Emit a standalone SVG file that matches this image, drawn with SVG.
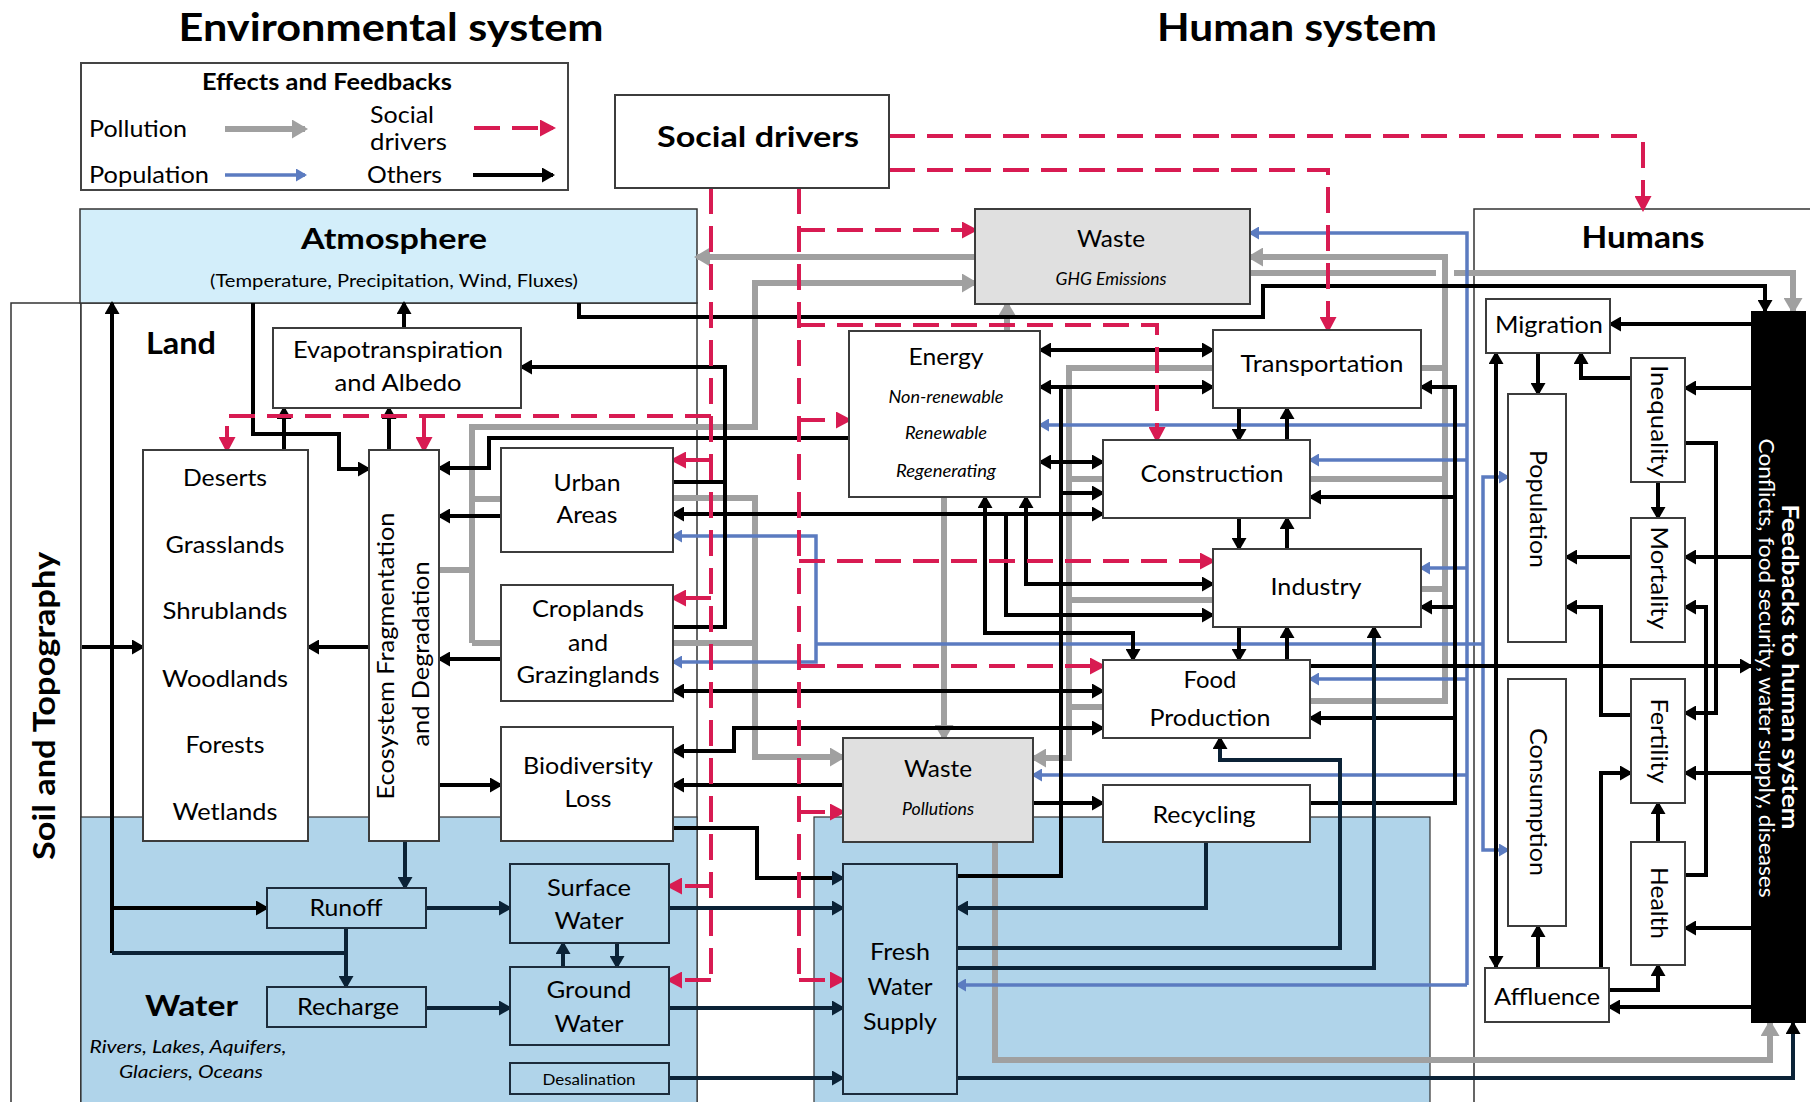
<svg xmlns="http://www.w3.org/2000/svg" width="1810" height="1102" viewBox="0 0 1810 1102">
<defs>
<style>
text{font-family:Lato,"Open Sans","Liberation Sans",sans-serif;fill:#000}
.l{font-size:24px}
.m{text-anchor:middle}
.b{font-weight:bold}
.i{font-style:italic;font-size:18px}
.box{fill:#fff;stroke:#3c3c3c;stroke-width:2}
.wbox{fill:#b0d4ea;stroke:#1c2c3c;stroke-width:2}
.gbox{fill:#e0e0e0;stroke:#3c3c3c;stroke-width:2}
.k{fill:none;stroke:#000;stroke-width:4}
.n{fill:none;stroke:#0b2236;stroke-width:4}
.g{fill:none;stroke:#a0a0a0;stroke-width:6}
.u{fill:none;stroke:#5b7bc0;stroke-width:3.5}
.r{fill:none;stroke:#d81b52;stroke-width:4;stroke-dasharray:26 12}
.ek{marker-end:url(#ak)}.sk{marker-start:url(#ak)}
.en{marker-end:url(#an)}
.eg{marker-end:url(#ag)}
.eu{marker-end:url(#au)}
.er{marker-end:url(#ar)}
</style>
<marker id="ak" viewBox="0 0 13 15" refX="11" refY="7.5" markerWidth="13" markerHeight="15" markerUnits="userSpaceOnUse" orient="auto-start-reverse"><path d="M0,0L13,7.5L0,15z" fill="#000"/></marker>
<marker id="an" viewBox="0 0 13 15" refX="11" refY="7.5" markerWidth="13" markerHeight="15" markerUnits="userSpaceOnUse" orient="auto-start-reverse"><path d="M0,0L13,7.5L0,15z" fill="#0b2236"/></marker>
<marker id="ag" viewBox="0 0 16 19" refX="13" refY="9.5" markerWidth="16" markerHeight="19" markerUnits="userSpaceOnUse" orient="auto"><path d="M0,0L16,9.5L0,19z" fill="#a0a0a0"/></marker>
<marker id="au" viewBox="0 0 11 13" refX="9" refY="6.5" markerWidth="11" markerHeight="13" markerUnits="userSpaceOnUse" orient="auto"><path d="M0,0L11,6.5L0,13z" fill="#5b7bc0"/></marker>
<marker id="ar" viewBox="0 0 16 17" refX="13" refY="8.5" markerWidth="16" markerHeight="17" markerUnits="userSpaceOnUse" orient="auto"><path d="M0,0L16,8.5L0,17z" fill="#d81b52"/></marker>
</defs>
<rect width="1810" height="1102" fill="#fff"/>

<g id="titles">
<text class="b m" x="391" y="41" font-size="39" textLength="425" lengthAdjust="spacingAndGlyphs">Environmental system</text>
<text class="b m" x="1297" y="41" font-size="39" textLength="280" lengthAdjust="spacingAndGlyphs">Human system</text>
</g>

<g id="legend">
<rect x="81" y="63" width="487" height="127" fill="#fff" stroke="#444" stroke-width="2"/>
<text class="b m" x="327" y="90" font-size="23" textLength="250" lengthAdjust="spacingAndGlyphs">Effects and Feedbacks</text>
<text class="l" x="89" y="137" textLength="98" lengthAdjust="spacingAndGlyphs">Pollution</text>
<text class="l" x="370" y="123" textLength="64" lengthAdjust="spacingAndGlyphs">Social</text>
<text class="l" x="370" y="150" textLength="77" lengthAdjust="spacingAndGlyphs">drivers</text>
<text class="l" x="89" y="183" textLength="120" lengthAdjust="spacingAndGlyphs">Population</text>
<text class="l" x="367" y="183" textLength="75" lengthAdjust="spacingAndGlyphs">Others</text>
<path class="g eg" d="M225,129H305"/>
<path class="r er" d="M474,128H553"/>
<path class="u eu" d="M225,175H305"/>
<path class="k ek" d="M473,175H553"/>
</g>

<g id="regions">
<rect x="11" y="303" width="70" height="810" fill="#fff" stroke="#333" stroke-width="1.5"/>
<rect x="81" y="303" width="616" height="810" fill="#fff" stroke="#333" stroke-width="1.5"/>
<rect x="81" y="817" width="616" height="300" fill="#b0d4ea" stroke="#333" stroke-width="1.2"/>
<rect x="814" y="817" width="616" height="300" fill="#b0d4ea" stroke="#333" stroke-width="1.2"/>
<rect x="1474" y="209" width="345" height="910" fill="none" stroke="#333" stroke-width="1.5"/>
<rect x="80" y="209" width="617" height="94" fill="#d3eefa" stroke="#333" stroke-width="1.5"/>
<text class="b m" x="394" y="249" font-size="29" textLength="186" lengthAdjust="spacingAndGlyphs">Atmosphere</text>
<text class="m" x="394" y="287" font-size="18" textLength="368" lengthAdjust="spacingAndGlyphs">(Temperature, Precipitation, Wind, Fluxes)</text>
<text class="b" x="146" y="354" font-size="31" textLength="70" lengthAdjust="spacingAndGlyphs">Land</text>
<text class="b m" transform="translate(55,706) rotate(-90)" font-size="31" textLength="308" lengthAdjust="spacingAndGlyphs">Soil and Topography</text>
<text class="b" x="145" y="1016" font-size="29" textLength="93" lengthAdjust="spacingAndGlyphs">Water</text>
<text class="m" x="188" y="1053" font-size="18" font-style="italic" textLength="197" lengthAdjust="spacingAndGlyphs">Rivers, Lakes, Aquifers,</text>
<text class="m" x="191" y="1078" font-size="18" font-style="italic" textLength="144" lengthAdjust="spacingAndGlyphs">Glaciers, Oceans</text>
<text class="b m" x="1643" y="248" font-size="31" textLength="123" lengthAdjust="spacingAndGlyphs">Humans</text>
</g>

<g id="connectors">
<path class="g eg" d="M975,257H697"/>
<path class="g" d="M439,570H472M501,499H472M501,643H472"/>
<path class="g eg" d="M472,643V427H755V283H975"/>
<path class="g" d="M673,643H755"/>
<path class="g eg" d="M673,498H755V757H843"/>
<path class="g eg" d="M1007,331V304"/>
<path class="g eg" d="M944,497V738"/>
<path class="g" d="M1421,368H1445M1310,479H1445M1421,589H1445"/>
<path class="g eg" d="M1310,701H1445V257H1250"/>
<path class="g" d="M1250,273H1436"/>
<path class="g eg" d="M1454,273H1793V311"/>
<path class="g" d="M1103,479H1069M1213,600H1069M1103,707H1069"/>
<path class="g eg" d="M1213,368H1069V758H1033"/>
<path class="g eg" d="M995,842V1060H1770V1023"/>

<path class="u eu" d="M1467,985V233H1250"/>
<path class="u eu" d="M1467,425H1040"/>
<path class="u eu" d="M1467,460H1310"/>
<path class="u eu" d="M1467,568H1421"/>
<path class="u eu" d="M1467,679H1310"/>
<path class="u eu" d="M1467,775H1033"/>
<path class="u eu" d="M1467,985H957"/>
<path class="u eu" d="M1483,644V477H1508"/>
<path class="u eu" d="M1483,644V850H1508"/>
<path class="u" d="M1483,644H816"/>
<path class="u eu" d="M816,644V536H673"/>
<path class="u eu" d="M816,644V662H673"/>

<path class="k ek" d="M112,953V303"/>
<path class="n" d="M112,953H346"/>
<path class="n en" d="M346,928V987"/>
<path class="k ek" d="M112,908H267"/>
<path class="k ek" d="M82,647H143"/>
<path class="k ek" d="M253,303V434H339V469H369"/>
<path class="k ek" d="M284,450V408"/>
<path class="k ek" d="M389,450V408"/>
<path class="k ek" d="M404,328V303"/>
<path class="k ek" d="M849,438H489V468H439"/>
<path class="k" d="M673,482H725"/>
<path class="k ek" d="M673,627H725V367H521"/>
<path class="k ek" d="M501,516H439"/>
<path class="k ek" d="M501,659H439"/>
<path class="k ek" d="M369,647H308"/>
<path class="k ek" d="M439,785H501"/>
<path class="n en" d="M405,841V888"/>
<path class="n en" d="M426,908H510"/>
<path class="n en" d="M426,1008H510"/>
<path class="n en" d="M563,967V943"/>
<path class="n en" d="M617,943V967"/>
<path class="n en" d="M669,908H843"/>
<path class="n en" d="M669,1008H843"/>
<path class="n en" d="M669,1078H843"/>
<path class="k en" d="M673,828H757V878H843"/>
<path class="k sk ek" d="M673,751H734V728H1103"/>
<path class="k ek" d="M843,785H673"/>
<path class="k sk ek" d="M673,691H1103"/>
<path class="k sk ek" d="M673,514H1103"/>

<path class="k sk ek" d="M1040,350H1213"/>
<path class="k sk ek" d="M1040,387H1213"/>
<path class="k" d="M1061,387V876H957"/>
<path class="k ek" d="M1061,493H1103"/>
<path class="k sk ek" d="M1040,462H1103"/>
<path class="k sk ek" d="M1026,497V584H1213"/>
<path class="k sk ek" d="M985,497V633H1133V660"/>
<path class="k ek" d="M1006,514V615H1213"/>
<path class="k ek" d="M1239,408V440"/>
<path class="k ek" d="M1287,440V408"/>
<path class="k ek" d="M1239,518V549"/>
<path class="k ek" d="M1287,549V518"/>
<path class="k ek" d="M1239,627V660"/>
<path class="k ek" d="M1287,660V627"/>
<path class="k ek" d="M1310,803H1455V387H1421"/>
<path class="k ek" d="M1455,497H1310"/>
<path class="k ek" d="M1455,607H1421"/>
<path class="k ek" d="M1455,718H1310"/>
<path class="k ek" d="M1310,666H1751"/>
<path class="k ek" d="M1033,803H1103"/>
<path class="n en" d="M1206,842V908H957"/>
<path class="n ek" d="M957,948H1340V760H1220V738"/>
<path class="n ek" d="M957,968H1374V627"/>
<path class="n ek" d="M957,1078H1793V1023"/>
<path class="k ek" d="M579,303V317H1263V286H1765V311"/>

<path class="k ek" d="M1751,324H1610"/>
<path class="k ek" d="M1751,388H1685"/>
<path class="k ek" d="M1751,557H1685"/>
<path class="k ek" d="M1538,353V394"/>
<path class="k ek" d="M1631,378H1581V353"/>
<path class="k ek" d="M1658,482V518"/>
<path class="k ek" d="M1631,557H1566"/>
<path class="k sk ek" d="M1496,967V353"/>
<path class="k ek" d="M1685,443H1716V713H1685"/>
<path class="k ek" d="M1685,875H1706V607H1685"/>
<path class="k ek" d="M1631,715H1601V607H1566"/>
<path class="k ek" d="M1751,773H1685"/>
<path class="k ek" d="M1751,928H1685"/>
<path class="k ek" d="M1751,1007H1609"/>
<path class="k ek" d="M1658,842V803"/>
<path class="k ek" d="M1601,968V773H1631"/>
<path class="k ek" d="M1609,990H1658V965"/>
<path class="k ek" d="M1538,968V926"/>

<path class="r" d="M711,188V981"/>
<path class="r er" d="M711,416H227V450"/>
<path class="r er" d="M424,416V450"/>
<path class="r er" d="M711,460H673"/>
<path class="r er" d="M711,598H673"/>
<path class="r er" d="M711,886H669"/>
<path class="r er" d="M711,980H669"/>
<path class="r" d="M799,188V980"/>
<path class="r er" d="M799,230H975"/>
<path class="r er" d="M799,325H1157V440"/>
<path class="r er" d="M799,420H849"/>
<path class="r er" d="M799,561H1213"/>
<path class="r er" d="M799,666H1103"/>
<path class="r er" d="M799,812H843"/>
<path class="r er" d="M799,980H843"/>
<path class="r er" d="M889,136H1643V209"/>
<path class="r er" d="M889,170H1328V330"/>
</g>

<g id="social-drivers">
<rect class="box" x="615" y="95" width="274" height="93"/>
<text class="b m" x="758" y="147" font-size="29" textLength="202" lengthAdjust="spacingAndGlyphs">Social drivers</text>
</g>

<g id="evapotranspiration">
<rect class="box" x="273" y="328" width="248" height="80"/>
<text class="l m" x="398" y="358" textLength="210" lengthAdjust="spacingAndGlyphs">Evapotranspiration</text>
<text class="l m" x="398" y="391" textLength="127" lengthAdjust="spacingAndGlyphs">and Albedo</text>
</g>

<g id="biomes">
<rect class="box" x="143" y="450" width="165" height="391"/>
<text class="l m" x="225" y="486" textLength="84" lengthAdjust="spacingAndGlyphs">Deserts</text>
<text class="l m" x="225" y="553" textLength="119" lengthAdjust="spacingAndGlyphs">Grasslands</text>
<text class="l m" x="225" y="619" textLength="125" lengthAdjust="spacingAndGlyphs">Shrublands</text>
<text class="l m" x="225" y="687" textLength="126" lengthAdjust="spacingAndGlyphs">Woodlands</text>
<text class="l m" x="225" y="753" textLength="79" lengthAdjust="spacingAndGlyphs">Forests</text>
<text class="l m" x="225" y="820" textLength="105" lengthAdjust="spacingAndGlyphs">Wetlands</text>
</g>

<g id="ecosystem-fragmentation">
<rect class="box" x="369" y="450" width="70" height="391"/>
<text class="l m" transform="translate(394,656) rotate(-90)" textLength="287" lengthAdjust="spacingAndGlyphs">Ecosystem Fragmentation</text>
<text class="l m" transform="translate(429,654) rotate(-90)" textLength="185" lengthAdjust="spacingAndGlyphs">and Degradation</text>
</g>

<g id="urban-areas">
<rect class="box" x="501" y="448" width="172" height="104"/>
<text class="l m" x="587" y="491" textLength="67" lengthAdjust="spacingAndGlyphs">Urban</text>
<text class="l m" x="587" y="523" textLength="61" lengthAdjust="spacingAndGlyphs">Areas</text>
</g>

<g id="croplands">
<rect class="box" x="501" y="585" width="172" height="116"/>
<text class="l m" x="588" y="617" textLength="112" lengthAdjust="spacingAndGlyphs">Croplands</text>
<text class="l m" x="588" y="651" textLength="40" lengthAdjust="spacingAndGlyphs">and</text>
<text class="l m" x="588" y="683" textLength="143" lengthAdjust="spacingAndGlyphs">Grazinglands</text>
</g>

<g id="biodiversity-loss">
<rect class="box" x="501" y="727" width="172" height="114"/>
<text class="l m" x="588" y="774" textLength="130" lengthAdjust="spacingAndGlyphs">Biodiversity</text>
<text class="l m" x="588" y="807" textLength="47" lengthAdjust="spacingAndGlyphs">Loss</text>
</g>

<g id="runoff">
<rect class="wbox" x="267" y="888" width="159" height="40"/>
<text class="l m" x="346" y="916" textLength="73" lengthAdjust="spacingAndGlyphs">Runoff</text>
</g>
<g id="recharge">
<rect class="wbox" x="267" y="987" width="159" height="40"/>
<text class="l m" x="348" y="1015" textLength="102" lengthAdjust="spacingAndGlyphs">Recharge</text>
</g>
<g id="surface-water">
<rect class="wbox" x="510" y="864" width="159" height="79"/>
<text class="l m" x="589" y="896" textLength="84" lengthAdjust="spacingAndGlyphs">Surface</text>
<text class="l m" x="589" y="929" textLength="69" lengthAdjust="spacingAndGlyphs">Water</text>
</g>
<g id="ground-water">
<rect class="wbox" x="510" y="967" width="159" height="78"/>
<text class="l m" x="589" y="998" textLength="85" lengthAdjust="spacingAndGlyphs">Ground</text>
<text class="l m" x="589" y="1032" textLength="69" lengthAdjust="spacingAndGlyphs">Water</text>
</g>
<g id="desalination">
<rect class="wbox" x="510" y="1063" width="159" height="31"/>
<text class="m" x="589" y="1085" font-size="16" textLength="93" lengthAdjust="spacingAndGlyphs">Desalination</text>
</g>

<g id="waste-ghg">
<rect class="gbox" x="975" y="209" width="275" height="95"/>
<text class="l m" x="1111" y="247" textLength="68" lengthAdjust="spacingAndGlyphs">Waste</text>
<text class="i m" x="1111" y="285" textLength="111" lengthAdjust="spacingAndGlyphs">GHG Emissions</text>
</g>

<g id="energy">
<rect class="box" x="849" y="331" width="191" height="166"/>
<text class="l m" x="946" y="365" textLength="75" lengthAdjust="spacingAndGlyphs">Energy</text>
<text class="i m" x="946" y="403" textLength="115" lengthAdjust="spacingAndGlyphs">Non-renewable</text>
<text class="i m" x="946" y="439" textLength="82" lengthAdjust="spacingAndGlyphs">Renewable</text>
<text class="i m" x="946" y="477" textLength="100" lengthAdjust="spacingAndGlyphs">Regenerating</text>
</g>

<g id="transportation">
<rect class="box" x="1213" y="330" width="208" height="78"/>
<text class="l m" x="1322" y="372" textLength="163" lengthAdjust="spacingAndGlyphs">Transportation</text>
</g>
<g id="construction">
<rect class="box" x="1103" y="440" width="207" height="78"/>
<text class="l m" x="1212" y="482" textLength="143" lengthAdjust="spacingAndGlyphs">Construction</text>
</g>
<g id="industry">
<rect class="box" x="1213" y="549" width="208" height="78"/>
<text class="l m" x="1316" y="595" textLength="91" lengthAdjust="spacingAndGlyphs">Industry</text>
</g>
<g id="food-production">
<rect class="box" x="1103" y="660" width="207" height="78"/>
<text class="l m" x="1210" y="688" textLength="53" lengthAdjust="spacingAndGlyphs">Food</text>
<text class="l m" x="1210" y="726" textLength="121" lengthAdjust="spacingAndGlyphs">Production</text>
</g>
<g id="recycling">
<rect class="box" x="1103" y="785" width="207" height="57"/>
<text class="l m" x="1204" y="823" textLength="103" lengthAdjust="spacingAndGlyphs">Recycling</text>
</g>
<g id="waste-pollutions">
<rect class="gbox" x="843" y="738" width="190" height="104"/>
<text class="l m" x="938" y="777" textLength="68" lengthAdjust="spacingAndGlyphs">Waste</text>
<text class="i m" x="938" y="815" textLength="72" lengthAdjust="spacingAndGlyphs">Pollutions</text>
</g>
<g id="fresh-water-supply">
<rect class="wbox" x="843" y="864" width="114" height="230"/>
<text class="l m" x="900" y="960" textLength="60" lengthAdjust="spacingAndGlyphs">Fresh</text>
<text class="l m" x="900" y="995" textLength="65" lengthAdjust="spacingAndGlyphs">Water</text>
<text class="l m" x="900" y="1030" textLength="74" lengthAdjust="spacingAndGlyphs">Supply</text>
</g>

<g id="migration">
<rect class="box" x="1486" y="299" width="124" height="54"/>
<text class="l m" x="1549" y="333" textLength="108" lengthAdjust="spacingAndGlyphs">Migration</text>
</g>
<g id="population">
<rect class="box" x="1508" y="394" width="58" height="248"/>
<text class="l m" transform="translate(1530,509) rotate(90)" textLength="118" lengthAdjust="spacingAndGlyphs">Population</text>
</g>
<g id="inequality">
<rect class="box" x="1631" y="358" width="54" height="124"/>
<text class="l m" transform="translate(1651,421) rotate(90)" textLength="112" lengthAdjust="spacingAndGlyphs">Inequality</text>
</g>
<g id="mortality">
<rect class="box" x="1631" y="518" width="54" height="124"/>
<text class="l m" transform="translate(1651,578) rotate(90)" textLength="103" lengthAdjust="spacingAndGlyphs">Mortality</text>
</g>
<g id="consumption">
<rect class="box" x="1508" y="679" width="58" height="247"/>
<text class="l m" transform="translate(1530,802) rotate(90)" textLength="148" lengthAdjust="spacingAndGlyphs">Consumption</text>
</g>
<g id="fertility">
<rect class="box" x="1631" y="679" width="54" height="124"/>
<text class="l m" transform="translate(1651,741) rotate(90)" textLength="85" lengthAdjust="spacingAndGlyphs">Fertility</text>
</g>
<g id="health">
<rect class="box" x="1631" y="842" width="54" height="123"/>
<text class="l m" transform="translate(1651,903) rotate(90)" textLength="72" lengthAdjust="spacingAndGlyphs">Health</text>
</g>
<g id="affluence">
<rect class="box" x="1485" y="968" width="124" height="54"/>
<text class="l m" x="1547" y="1005" textLength="106" lengthAdjust="spacingAndGlyphs">Affluence</text>
</g>
<g id="feedbacks">
<rect x="1751" y="311" width="55" height="712" fill="#000"/>
<text class="b m" transform="translate(1782,667) rotate(90)" font-size="23" style="fill:#fff" textLength="325" lengthAdjust="spacingAndGlyphs">Feedbacks to human system</text>
<text class="m" transform="translate(1759,668) rotate(90)" font-size="21" style="fill:#fff" textLength="459" lengthAdjust="spacingAndGlyphs">Conflicts, food security, water supply, diseases</text>
</g>
</svg>
